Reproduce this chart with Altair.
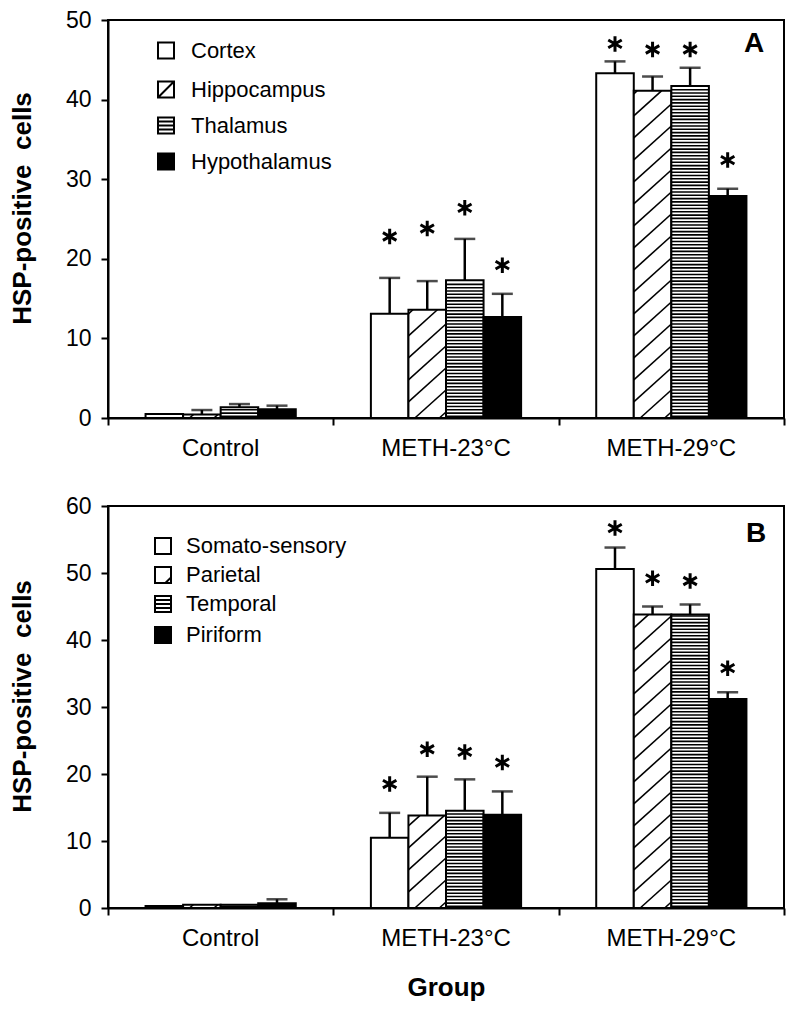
import altair as alt
import numpy as np
import pandas as pd

# ---------------- data ----------------
groups = ["Control", "METH-23°C", "METH-29°C"]

regions_a = ["Cortex", "Hippocampus", "Thalamus", "Hypothalamus"]
cortex_mean = [0.5, 13.1, 43.3]
cortex_sem = [0.0, 4.5, 1.5]
cortex_star = [None, 22.8, 47.0]
hippocampus_mean = [0.45, 13.6, 41.1]
hippocampus_sem = [0.55, 3.6, 1.8]
hippocampus_star = [None, 23.8, 46.3]
thalamus_mean = [1.35, 17.3, 41.7]
thalamus_sem = [0.4, 5.2, 2.3]
thalamus_star = [None, 26.4, 46.3]
hypothalamus_mean = [1.1, 12.7, 27.9]
hypothalamus_sem = [0.45, 2.9, 0.9]
hypothalamus_star = [None, 19.2, 32.4]

regions_b = ["Somato-sensory", "Parietal", "Temporal", "Piriform"]
somato_mean = [0.3, 10.5, 50.6]
somato_sem = [0.0, 3.7, 3.2]
somato_star = [None, 18.5, 56.7]
parietal_mean = [0.5, 13.8, 43.8]
parietal_sem = [0.0, 5.8, 1.2]
parietal_star = [None, 23.7, 49.2]
temporal_mean = [0.5, 14.5, 43.8]
temporal_sem = [0.0, 4.7, 1.5]
temporal_star = [None, 23.3, 48.8]
piriform_mean = [0.7, 13.9, 31.2]
piriform_sem = [0.6, 3.5, 1.0]
piriform_star = [None, 21.7, 35.8]

# ---------------- layout / style ----------------
PLOT_W = 676
H_A = 398
H_B = 402
FONT = "Liberation Sans"
Y_TITLE = "HSP-positive\u00a0 cells"

SQ = "M-1,-1H1V1H-1Z"
SHAPES_A = [SQ, SQ + "M-1,1L1,-1", SQ + "M-1,-0.5H1M-1,0H1M-1,0.5H1", SQ]
SHAPES_B = [SQ, SQ + "M0.3,1L1,0.3", SQ + "M-1,-0.5H1M-1,0H1M-1,0.5H1", SQ]
STAR = "M0,-1V1M-0.87,-0.5L0.87,0.5M-0.87,0.5L0.87,-0.5"
FILLS = ["white", "white", "white", "black"]


def long_table(regions, means, sems, stars):
    rows = []
    for ri, (r, m, s, st) in enumerate(zip(regions, means, sems, stars)):
        for gi, g in enumerate(groups):
            rows.append(dict(group=g, region=r, gi=gi, ri=ri, mean=m[gi],
                             sem=s[gi], top=m[gi] + s[gi], star=st[gi]))
    return pd.DataFrame(rows)


def hatch_table(df, ymax, plot_h):
    """Fill-pattern lines (diagonal for series 2, horizontal for series 3)."""
    ppu_y = plot_h / ymax
    ppu_x = PLOT_W / 3.0
    w = ppu_x / 6.0
    rows = []
    for _, r in df.iterrows():
        x0 = r["gi"] + (1 + r["ri"]) / 6.0
        h = r["mean"] * ppu_y
        if r["ri"] == 1:
            s, period = 0.9, 22.0
            c = -s * w + 6.0
            while c < h:
                xl = max(0.0, -c / s)
                xh = min(w, (h - c) / s)
                if xh - xl > 0.3:
                    rows.append(dict(x=x0 + xl / ppu_x, x2=x0 + xh / ppu_x,
                                     y=(s * xl + c) / ppu_y, y2=(s * xh + c) / ppu_y))
                c += period
        elif r["ri"] == 2:
            yy = 1.6
            while yy < h - 1.0:
                rows.append(dict(x=x0, x2=x0 + 1 / 6.0, y=yy / ppu_y, y2=yy / ppu_y))
                yy += 3.3
    return pd.DataFrame(rows)


def legend_layers(regions, shapes, sym_x, text_x, rows_y):
    layers = []
    for k, reg in enumerate(regions):
        d = pd.DataFrame({"label": [reg]})
        layers.append(alt.Chart(d).mark_point(
            shape=shapes[k], size=256, filled=True, fill=FILLS[k], stroke="black",
            strokeWidth=2, opacity=1).encode(x=alt.value(sym_x), y=alt.value(rows_y[k])))
        layers.append(alt.Chart(d).mark_text(
            font=FONT, fontSize=22, align="left", baseline="middle", color="black").encode(
            x=alt.value(text_x), y=alt.value(rows_y[k]), text="label:N"))
    return layers


def panel(df, regions, shapes, ymax, plot_h, letter, letter_x, letter_y,
          sym_x, text_x, rows_y, x_title):
    hatch = hatch_table(df, ymax, plot_h)
    yscale = alt.Scale(domain=[0, ymax], nice=False)
    xband = alt.Scale(domain=groups, paddingInner=0, paddingOuter=0)
    xoff = alt.XOffset("region:N", scale=alt.Scale(domain=regions, paddingInner=0, paddingOuter=1))
    fill_scale = alt.Scale(domain=regions, range=FILLS)

    x_axis = alt.Axis(ticks=False, labelFontSize=24, labelPadding=18, labelAngle=0,
                      title=x_title, titleFontSize=26, titleFontWeight="bold",
                      titlePadding=24, orient="bottom", domain=True, grid=False)
    y_axis = alt.Axis(values=list(range(0, ymax + 1, 5)),
                      labelExpr="datum.value % 10 == 0 ? datum.label : ''",
                      tickSize=7, labelFontSize=23, labelPadding=10,
                      title=Y_TITLE, titleFontSize=26, titleY=plot_h / 2 - 11,
                      titleFontWeight="bold", titlePadding=30, grid=False)

    base = alt.Chart(df)

    bars = base.mark_bar(stroke="black", strokeWidth=2).encode(
        x=alt.X("group:N", scale=xband, axis=x_axis),
        xOffset=xoff,
        y=alt.Y("mean:Q", scale=yscale, axis=y_axis),
        fill=alt.Fill("region:N", scale=fill_scale, legend=None),
    )

    err = base.mark_rule(color="black", strokeWidth=2.5).encode(
        x=alt.X("group:N", scale=xband, title=x_title),
        xOffset=xoff,
        y=alt.Y("mean:Q", scale=yscale, title=Y_TITLE),
        y2="top:Q",
    ).transform_filter("datum.sem > 0")

    caps = base.mark_tick(color="black", size=21, thickness=2.5, orient="horizontal").encode(
        x=alt.X("group:N", scale=xband, title=x_title),
        xOffset=xoff,
        y=alt.Y("top:Q", scale=yscale, title=Y_TITLE),
    ).transform_filter("datum.sem > 0")

    stars = base.mark_point(shape=STAR, filled=False, stroke="black", strokeWidth=3,
                            size=240, opacity=1).encode(
        x=alt.X("group:N", scale=xband, title=x_title),
        xOffset=xoff,
        y=alt.Y("star:Q", scale=yscale, title=Y_TITLE),
    ).transform_filter("isValid(datum.star)")

    letter_txt = alt.Chart(pd.DataFrame({"label": [letter]})).mark_text(
        font=FONT, fontSize=28, fontWeight="bold", align="center", baseline="middle",
        color="black").encode(x=alt.value(letter_x), y=alt.value(letter_y), text="label:N")

    inner = alt.layer(bars, err, caps, stars, letter_txt,
                      *legend_layers(regions, shapes, sym_x, text_x, rows_y))

    hatch_layer = alt.Chart(hatch).mark_rule(color="black", strokeWidth=1.6).encode(
        x=alt.X("x:Q", scale=alt.Scale(domain=[0, 3], nice=False, zero=False),
                axis=alt.Axis(values=[0, 1, 2, 3], labels=False, domain=False, ticks=True,
                              tickSize=7, tickWidth=2, title=None, orient="bottom", grid=False)),
        x2="x2:Q",
        y=alt.Y("y:Q", scale=yscale, title=Y_TITLE),
        y2="y2:Q",
    )

    return alt.layer(inner, hatch_layer).resolve_scale(x="independent").properties(
        width=PLOT_W, height=plot_h)


df_a = long_table(regions_a,
                  [cortex_mean, hippocampus_mean, thalamus_mean, hypothalamus_mean],
                  [cortex_sem, hippocampus_sem, thalamus_sem, hypothalamus_sem],
                  [cortex_star, hippocampus_star, thalamus_star, hypothalamus_star])
df_b = long_table(regions_b,
                  [somato_mean, parietal_mean, temporal_mean, piriform_mean],
                  [somato_sem, parietal_sem, temporal_sem, piriform_sem],
                  [somato_star, parietal_star, temporal_star, piriform_star])

LEFT = 107
TOP_A = 19.5
TOP_B = 507
panel_a = panel(df_a, regions_a, SHAPES_A, 50, H_A, "A", 753 - LEFT, 43 - TOP_A,
                165 - LEFT, 190 - LEFT, [y - TOP_A for y in (50, 89, 125, 161)], None)
panel_b = panel(df_b, regions_b, SHAPES_B, 60, H_B, "B", 755 - LEFT, 535 - TOP_B,
                162 - LEFT, 185 - LEFT, [y - TOP_B for y in (547, 576, 605, 636)], "Group")

chart = alt.vconcat(panel_a, panel_b, spacing=33).resolve_scale(
    fill="independent", xOffset="independent"
).properties(
    padding={"left": 0, "top": 0, "right": 5, "bottom": 5}
).configure_view(
    stroke="black", strokeWidth=2
).configure_axis(
    labelFont=FONT, titleFont=FONT, labelColor="black", titleColor="black",
    domainColor="black", tickColor="black", domainWidth=2, tickWidth=2, grid=False
)

chart.save("out.html", embed_options={"renderer": "svg", "actions": False})
